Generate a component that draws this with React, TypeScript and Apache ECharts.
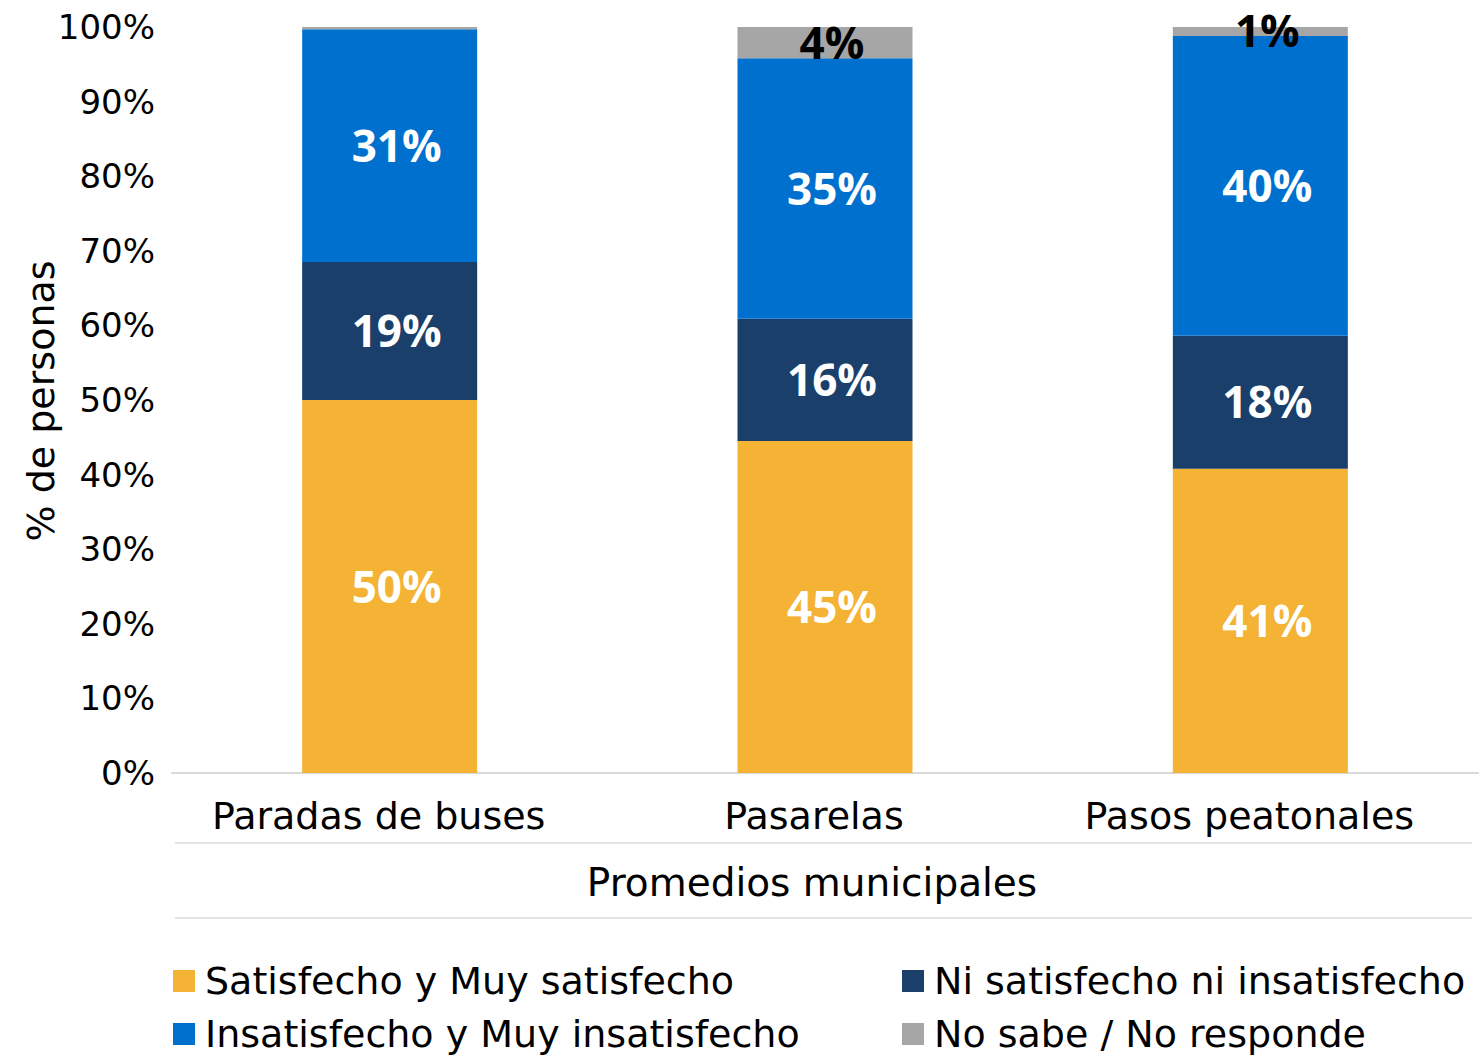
import React, { useEffect, useRef } from "react";
import * as echarts from "echarts";

const categories = ["Paradas de buses", "Pasarelas", "Pasos peatonales"];
const groupLabel = "Promedios municipales";
const seriesNames = [
  "Satisfecho y Muy satisfecho",
  "Ni satisfecho ni insatisfecho",
  "Insatisfecho y Muy insatisfecho",
  "No sabe / No responde",
];
const satisfecho = [50, 44.5, 40.8];
const ni = [18.5, 16.4, 17.8];
const insatisfecho = [31.2, 34.9, 40.2];
const noSabe = [0.3, 4.2, 1.2];
const colors = ["#F4B335", "#1B3F6B", "#0070CE", "#A6A6A6"];
const labelColors = ["#FFFFFF", "#FFFFFF", "#FFFFFF", "#000000"];
const yAxisTitle = "% de personas";

const FONT = "DejaVu Sans";
const LABEL_FONT = "Open Sans";

export default function App() {
  const ref = useRef<HTMLDivElement>(null);
  useEffect(() => {
    if (!ref.current) return;
    const chart = echarts.init(ref.current, undefined, { renderer: "svg" });
    const data = [satisfecho, ni, insatisfecho, noSabe];
    const series = data.map((d, i) => ({
      name: seriesNames[i],
      type: "bar",
      stack: "total",
      barWidth: 175,
      data: d,
      itemStyle: { color: colors[i] },
      label: {
        show: true,
        position: "inside",
        color: labelColors[i],
        fontSize: 44,
        fontWeight: "bold",
        fontFamily: LABEL_FONT,
        offset: [7, -1],
        formatter: (p: any) => (p.value < 0.5 ? "" : Math.round(p.value) + "%"),
      },
    }));
    const legendPos = [
      { left: 173, top: 962 },
      { left: 902, top: 962 },
      { left: 173, top: 1015 },
      { left: 902, top: 1015 },
    ];
    const legends = seriesNames.map((n, i) => ({
      left: legendPos[i].left,
      top: legendPos[i].top,
      itemWidth: 22,
      itemHeight: 22,
      itemGap: 0,
      icon: "rect",
      padding: 0,
      data: [n],
      textStyle: { color: "#000", fontSize: 38, fontFamily: FONT, padding: [0, 0, 0, 5] },
    }));
    chart.setOption({
      animation: false,
      textStyle: { fontFamily: FONT },
      grid: { left: 172, right: 4, top: 27, bottom: 282, containLabel: false },
      xAxis: {
        type: "category",
        data: categories,
        axisLine: { lineStyle: { color: "#D9D9D9", width: 2 } },
        axisTick: { show: false },
        axisLabel: {
          color: "#000",
          fontSize: 38,
          fontFamily: FONT,
          margin: 24,
          padding: [0, 22, 0, 0],
        },
      },
      yAxis: {
        type: "value",
        min: 0,
        max: 100,
        interval: 10,
        splitLine: { show: false },
        axisLine: { show: false },
        axisTick: { show: false },
        axisLabel: {
          color: "#000",
          fontSize: 34,
          fontFamily: FONT,
          margin: 17,
          formatter: "{value}%",
        },
      },
      legend: legends,
      graphic: [
        {
          type: "text",
          x: 41,
          y: 401,
          rotation: Math.PI / 2,
          style: {
            text: yAxisTitle,
            fill: "#000",
            fontSize: 38,
            fontFamily: FONT,
            textAlign: "center",
            textVerticalAlign: "middle",
          },
        },
        {
          type: "line",
          shape: { x1: 175, y1: 843, x2: 1472, y2: 843 },
          style: { stroke: "#D9D9D9", lineWidth: 1.5 },
        },
        {
          type: "line",
          shape: { x1: 175, y1: 918, x2: 1472, y2: 918 },
          style: { stroke: "#D9D9D9", lineWidth: 1.5 },
        },
        {
          type: "text",
          x: 812,
          y: 882,
          style: {
            text: groupLabel,
            fill: "#000",
            fontSize: 39,
            fontFamily: FONT,
            textAlign: "center",
            textVerticalAlign: "middle",
          },
        },
      ],
      series,
    });
    return () => chart.dispose();
  }, []);
  return <div ref={ref} style={{ width: 1482, height: 1055, position: "absolute", left: 0, top: 0 }} />;
}
